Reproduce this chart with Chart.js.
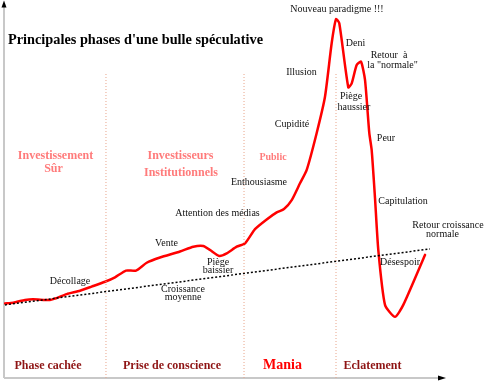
<!DOCTYPE html>
<html>
<head>
<meta charset="utf-8">
<script src="https://cdn.jsdelivr.net/npm/chart.js@4/dist/chart.umd.min.js"></script>
<style>
  html, body { margin: 0; padding: 0; background: #ffffff; }
  #wrap { width: 500px; height: 381px; }
</style>
</head>
<body>
<div id="wrap"><canvas id="c" width="500" height="381"></canvas></div>
<script>
// Bubble price path (time units 0-100, price units 0-100)
const bubbleTime  = [0.23, 2.13, 4.82, 6.65, 10.55, 11.70, 14.38, 17.43, 20.11, 23.17, 25.46, 27.98, 30.28, 32.73, 35.78, 40.37, 43.42, 45.71, 47.25, 49.38, 51.08, 53.37, 55.28, 57.57, 60.25, 62.55, 64.22, 65.99, 67.89, 69.43, 71.72, 73.62, 75.16, 76.15, 76.90, 78.97, 79.75, 80.89, 81.88, 82.80, 83.78, 84.33, 85.09, 85.85, 87.39, 89.68, 91.58, 96.56];
const bubblePrice = [20.0, 20.2, 20.9, 21.1, 20.9, 21.3, 22.5, 23.4, 24.5, 25.8, 27.0, 28.8, 28.8, 30.9, 32.3, 33.9, 35.2, 35.4, 34.3, 32.7, 33.4, 35.2, 36.1, 39.9, 42.5, 44.4, 45.3, 47.7, 52.2, 55.8, 65.7, 75.4, 89.8, 96.2, 95.1, 77.9, 79.0, 83.9, 84.8, 79.9, 65.7, 61.1, 48.3, 34.3, 19.6, 16.4, 19.6, 33.0];
// Average growth trend line
const trendTime  = [0.23, 97.7];
const trendPrice = [19.6, 34.6];
// Phase boundaries (time units) and the height of the separators
const phaseBounds = [23.39, 55.05, 76.15];
const phaseTop = 81.8;
// Phase names
const phaseNames = ["Phase cachée", "Prise de conscience", "Mania", "Eclatement"];
const actorNames = [["Investissement", "Sûr"], ["Investisseurs", "Institutionnels"], ["Public"]];

const SERIF = '"Liberation Serif", "DejaVu Serif", serif';

const bubbleData = bubbleTime.map((t, i) => ({ x: t, y: bubblePrice[i] }));
const trendData = trendTime.map((t, i) => ({ x: t, y: trendPrice[i] }));

const datasets = [];
phaseBounds.forEach(b => {
  datasets.push({
    data: [{ x: b, y: 0 }, { x: b, y: phaseTop }],
    borderColor: '#e8a58a', borderWidth: 1, borderDash: [1, 2],
    pointRadius: 0, fill: false, tension: 0
  });
});
datasets.push({
  data: trendData,
  borderColor: '#000000', borderWidth: 1.5, borderDash: [2, 2],
  pointRadius: 0, fill: false, tension: 0
});
datasets.push({
  data: bubbleData,
  borderColor: '#ff0000', borderWidth: 2.5,
  pointRadius: 0, fill: false, tension: 0.2, cubicInterpolationMode: 'default',
  borderJoinStyle: 'round', borderCapStyle: 'round'
});

// Text annotations (pixel placement)
const texts = [
  { t: "Principales phases d'une bulle spéculative", x: 8, y: 40, size: 14.3, bold: true, color: '#000', align: 'left' },
  { t: "Nouveau paradigme !!!", x: 337, y: 9, size: 10, color: '#111' },
  { t: "Deni", x: 355.5, y: 43, size: 10, color: '#111' },
  { t: "Retour  à", x: 389, y: 55, size: 10, color: '#111' },
  { t: "la \"normale\"", x: 392.5, y: 65, size: 10, color: '#111' },
  { t: "Illusion", x: 301.5, y: 72, size: 10, color: '#111' },
  { t: "Piège", x: 351, y: 96, size: 10, color: '#111' },
  { t: "haussier", x: 354, y: 107, size: 10, color: '#111' },
  { t: "Cupidité", x: 292, y: 124, size: 10, color: '#111' },
  { t: "Peur", x: 386, y: 138, size: 10, color: '#111' },
  { t: "Enthousiasme", x: 259, y: 182, size: 10, color: '#111' },
  { t: "Attention des médias", x: 217.5, y: 213, size: 10, color: '#111' },
  { t: "Vente", x: 166.5, y: 243, size: 10, color: '#111' },
  { t: "Piège", x: 218, y: 262, size: 10, color: '#111' },
  { t: "baissier", x: 218, y: 270, size: 10, color: '#111' },
  { t: "Décollage", x: 70, y: 281, size: 10, color: '#111' },
  { t: "Croissance", x: 183, y: 289, size: 10, color: '#111' },
  { t: "moyenne", x: 183, y: 297, size: 10, color: '#111' },
  { t: "Capitulation", x: 403, y: 201, size: 10, color: '#111' },
  { t: "Retour croissance", x: 448, y: 225.5, size: 10, color: '#111' },
  { t: "normale", x: 442.5, y: 234, size: 10, color: '#111' },
  { t: "Désespoir", x: 400, y: 262, size: 10, color: '#111' },
  { t: actorNames[0][0], x: 55.5, y: 156, size: 12, bold: true, color: '#ff7b7b' },
  { t: actorNames[0][1], x: 53.5, y: 169, size: 12, bold: true, color: '#ff7b7b' },
  { t: actorNames[1][0], x: 180.5, y: 156, size: 12, bold: true, color: '#ff7b7b' },
  { t: actorNames[1][1], x: 181, y: 172.5, size: 12, bold: true, color: '#ff7b7b' },
  { t: actorNames[2][0], x: 273, y: 157, size: 10, bold: true, color: '#ff7b7b' },
  { t: phaseNames[0], x: 48, y: 366, size: 12, bold: true, color: '#8e1414' },
  { t: phaseNames[1], x: 172, y: 366, size: 12, bold: true, color: '#8e1414' },
  { t: phaseNames[2], x: 282.5, y: 365, size: 14, bold: true, color: '#ff0000' },
  { t: phaseNames[3], x: 372.5, y: 366, size: 12, bold: true, color: '#8e1414' }
];

const decor = {
  id: 'decor',
  beforeDatasetsDraw(chart) {
    const ctx = chart.ctx, a = chart.chartArea;
    ctx.save();
    ctx.strokeStyle = '#c8c8c8';
    ctx.lineWidth = 2;
    ctx.beginPath();
    ctx.moveTo(a.left, a.bottom);
    ctx.lineTo(a.left, 6);
    ctx.moveTo(a.left, a.bottom);
    ctx.lineTo(a.right, a.bottom);
    ctx.stroke();
    ctx.fillStyle = '#000';
    ctx.beginPath();
    ctx.moveTo(a.left, 0.5);
    ctx.lineTo(a.left - 2.5, 7.5);
    ctx.lineTo(a.left + 2.5, 7.5);
    ctx.closePath();
    ctx.fill();
    ctx.beginPath();
    ctx.moveTo(a.right + 6, a.bottom);
    ctx.lineTo(a.right - 2, a.bottom - 2.5);
    ctx.lineTo(a.right - 2, a.bottom + 2.5);
    ctx.closePath();
    ctx.fill();
    ctx.restore();
  },
  afterDatasetsDraw(chart) {
    const ctx = chart.ctx;
    ctx.save();
    ctx.textBaseline = 'middle';
    texts.forEach(o => {
      ctx.font = (o.bold ? 'bold ' : '') + o.size + 'px ' + SERIF;
      ctx.fillStyle = o.color;
      ctx.textAlign = o.align || 'center';
      ctx.fillText(o.t, o.x, o.y);
    });
    ctx.restore();
  }
};

new Chart(document.getElementById('c'), {
  type: 'line',
  data: { datasets },
  options: {
    responsive: false,
    animation: false,
    devicePixelRatio: 1,
    layout: { padding: { left: 4, top: 5, right: 60, bottom: 3 } },
    plugins: { legend: { display: false }, tooltip: { enabled: false }, title: { display: false } },
    elements: { line: { capBezierPoints: true } },
    scales: {
      x: { type: 'linear', min: 0, max: 100, display: false },
      y: { type: 'linear', min: 0, max: 100, display: false }
    }
  },
  plugins: [decor]
});
</script>
</body>
</html>
